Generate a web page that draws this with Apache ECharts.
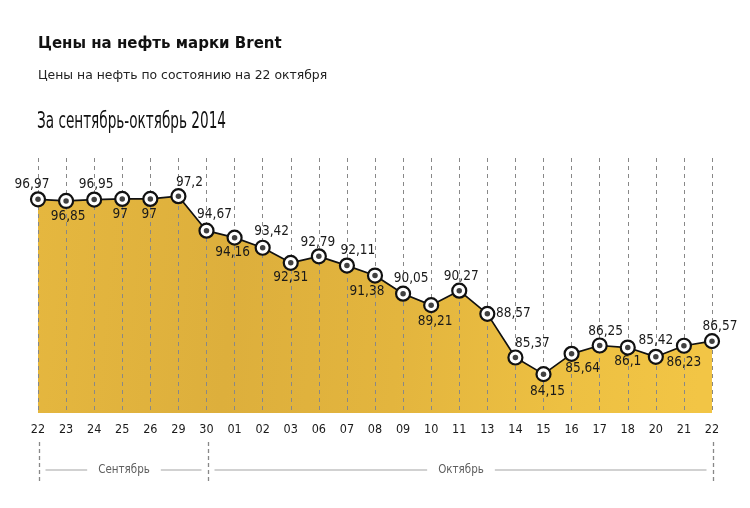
<!DOCTYPE html>
<html><head><meta charset="utf-8">
<script src="https://cdn.jsdelivr.net/npm/echarts@6/dist/echarts.min.js"></script>
<style>html,body{margin:0;padding:0;background:#fff}#c{width:750px;height:508px}</style>
</head><body><div id="c"></div>
<script>
const categories = ['22','23','24','25','26','29','30','01','02','03','06','07','08','09','10','11','13','14','15','16','17','18','20','21','22'];
const prices = [96.97,96.85,96.95,97,97,97.2,94.67,94.16,93.42,92.31,92.79,92.11,91.38,90.05,89.21,90.27,88.57,85.37,84.15,85.64,86.25,86.1,85.42,86.23,86.57];
const monthNames = ['Сентябрь','Октябрь'];
const monthBounds = [[0,6],[6,24]];
const titleText = 'Цены на нефть марки Brent';
const subtitleText = 'Цены на нефть по состоянию на 22 октября';
const periodText = 'За сентябрь-октябрь 2014';

// label placement (style): [dx, dy] from the point centre
const labelOffsets = [[-6,-15],[2,16],[2,-15],[-2,16],[-1,16],[11,-14],[8,-16],[-2,15],[9,-16],[0,15],[-1,-14],[11,-15],[-8,16],[8,-15],[4,16],[2,-14],[26,0],[17,-14],[4,17],[11,15],[6,-14],[0,14],[0,-16],[0,17],[8,-15]];

const fmt = v => String(v).replace('.', ',');
const chart = echarts.init(document.getElementById('c'), null, {renderer:'canvas'});
const FONT = 'DejaVu Sans Condensed';

const option = {
  animation:false,
  backgroundColor:'#fff',
  grid:{left:38, right:38, top:158, bottom:95},
  xAxis:{
    type:'category', data:categories, boundaryGap:false, z:3,
    axisLine:{show:false}, axisTick:{show:false},
    axisLabel:{color:'#1a1a1a', fontFamily:FONT, fontSize:12.5, margin:10},
    splitLine:{show:true, lineStyle:{color:'#888', type:[4,4], width:1}}
  },
  yAxis:{type:'value', min:81.3, max:100, show:false, splitLine:{show:false}},
  series:[
    {type:'line', data:prices, z:1, symbol:'none', lineStyle:{width:0},
     areaStyle:{opacity:1, color:new echarts.graphic.LinearGradient(0,0,1,0.3,[
        {offset:0,color:'#e5b73f'},{offset:0.3,color:'#ddaf3c'},{offset:0.55,color:'#e3b53e'},
        {offset:0.8,color:'#edc042'},{offset:1,color:'#f2c545'}])}},
    {type:'line', data:prices.map((v,i)=>({value:v, label:{offset:labelOffsets[i]}})), z:5,
     symbol:'circle', symbolSize:14,
     lineStyle:{color:'#111', width:1.7},
     itemStyle:{color:'#fff', borderColor:'#111', borderWidth:2.2},
     label:{show:true, position:'inside', formatter:p=>fmt(p.value), color:'#1a1a1a', fontFamily:FONT, fontSize:13.5}},
    {type:'scatter', data:prices, z:6, symbol:'circle', symbolSize:5.5, itemStyle:{color:'#111'}, silent:true}
  ]
};
chart.setOption(option);

function buildGraphics(){
  const ctx = document.createElement('canvas').getContext('2d');
  const pFont = '23px "DejaVu Sans Condensed"';
  ctx.font = pFont;
  const pScale = 189 / ctx.measureText(periodText).width;
  const g = [
    {type:'text', left:38, top:37, style:{text:titleText, font:'bold 15px "DejaVu Sans"', fill:'#111'}},
    {type:'text', left:38, top:70, style:{text:subtitleText, font:'12.4px "DejaVu Sans"', fill:'#222'}},
    {type:'text', x:37, y:111, scaleX:pScale, style:{text:periodText, font:pFont, fill:'#111'}}
  ];
  const mFont = '11.5px "DejaVu Sans Condensed"';
  ctx.font = mFont;
  const px = i => chart.convertToPixel({xAxisIndex:0}, i);
  const yTop = 442, yBot = 484, yMid = 470;
  const edges = new Set();
  monthBounds.forEach(b=>{edges.add(b[0]); edges.add(b[1]);});
  edges.forEach(i=>{
    const x = Math.round(px(i)) + 1.5;
    g.push({type:'line', shape:{x1:x,y1:yTop,x2:x,y2:yBot}, style:{stroke:'#888', lineWidth:1.3, lineDash:[4,3]}});
  });
  monthBounds.forEach((b,k)=>{
    const x0 = Math.round(px(b[0])) + 1.5, x1 = Math.round(px(b[1])) + 1.5;
    const cx = (x0 + x1)/2;
    const w = ctx.measureText(monthNames[k]).width;
    g.push({type:'text', x:cx, y:yMid, style:{text:monthNames[k], font:mFont, fill:'#5e5e5e', align:'center', verticalAlign:'middle'}});
    g.push({type:'line', shape:{x1:x0+6,y1:yMid,x2:cx-w/2-11,y2:yMid}, style:{stroke:'#c2c2c2', lineWidth:1.5}});
    g.push({type:'line', shape:{x1:cx+w/2+11,y1:yMid,x2:x1-7,y2:yMid}, style:{stroke:'#c2c2c2', lineWidth:1.5}});
  });
  chart.setOption({graphic:g});
}
buildGraphics();
</script></body></html>
